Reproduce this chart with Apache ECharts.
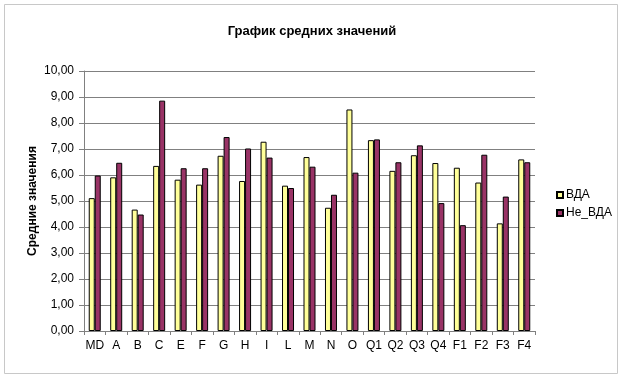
<!DOCTYPE html>
<html><head><meta charset="utf-8">
<script src="https://cdn.jsdelivr.net/npm/echarts@6/dist/echarts.min.js"></script>
<style>html,body{margin:0;padding:0;background:#fff}#c{width:624px;height:379px}</style>
</head><body><div id="c"></div>
<script>
var categories = ['MD','A','B','C','E','F','G','H','I','L','M','N','O','Q1','Q2','Q3','Q4','F1','F2','F3','F4'];
var vdaValues = [5.11,5.91,4.67,6.35,5.82,5.63,6.74,5.77,7.28,5.59,6.69,4.74,8.52,7.34,6.16,6.76,6.46,6.28,5.71,4.14,6.60];
var neVdaValues = [5.98,6.47,4.48,8.86,6.26,6.26,7.46,7.02,6.67,5.50,6.32,5.24,6.09,7.37,6.49,7.14,4.92,4.07,6.78,5.17,6.49];
var seriesNames = ['ВДА','Не_ВДА'];
var chart = echarts.init(document.getElementById('c'), null, {renderer:'canvas'});
var font = 'Liberation Sans, Arial, sans-serif';
chart.setOption({
  animation:false,
  backgroundColor:'#fff',
  graphic:[{type:'rect',shape:{x:4.5,y:4.5,width:613,height:369},style:{fill:'none',stroke:'#c8c8c8',lineWidth:1},silent:true}],
  title:{text:'График средних значений',left:'center',top:20,textStyle:{fontFamily:font,fontSize:13,fontWeight:'bold',color:'#000'}},
  legend:{orient:'vertical',left:551,top:184,itemWidth:6,itemHeight:6,itemGap:6,
    textStyle:{fontFamily:font,fontSize:12,color:'#000',padding:[0,0,0,-2]},
    data:seriesNames.map(function(n){return {name:n,icon:'rect'};})},
  grid:{left:84,top:71,width:451,height:260,containLabel:false},
  xAxis:{type:'category',data:categories,
    axisLine:{lineStyle:{color:'#808080',width:1}},
    axisTick:{show:true,alignWithLabel:false,length:4,lineStyle:{color:'#808080'}},
    axisLabel:{fontFamily:font,fontSize:12,color:'#000',margin:9,interval:0}},
  yAxis:{type:'value',min:0,max:10,interval:1,
    name:'Средние значения',nameLocation:'middle',nameGap:45,nameRotate:90,nameMoveOverlap:false,
    nameTextStyle:{fontFamily:font,fontSize:12,fontWeight:'bold',color:'#000'},
    axisLine:{show:true,lineStyle:{color:'#808080'}},
    axisTick:{show:true,length:5,lineStyle:{color:'#808080'}},
    splitLine:{lineStyle:{color:'#808080',width:1}},
    axisLabel:{fontFamily:font,fontSize:12,color:'#000',margin:10,formatter:function(v){return v.toFixed(2).replace('.',',');}}},
  series:[
    {name:seriesNames[0],type:'bar',data:vdaValues,barWidth:6,barGap:'0%',
      itemStyle:{color:'#FFFF99',borderColor:'#000',borderWidth:1}},
    {name:seriesNames[1],type:'bar',data:neVdaValues,barWidth:6,
      itemStyle:{color:'#993366',borderColor:'#000',borderWidth:1}}
  ]
});
</script></body></html>
